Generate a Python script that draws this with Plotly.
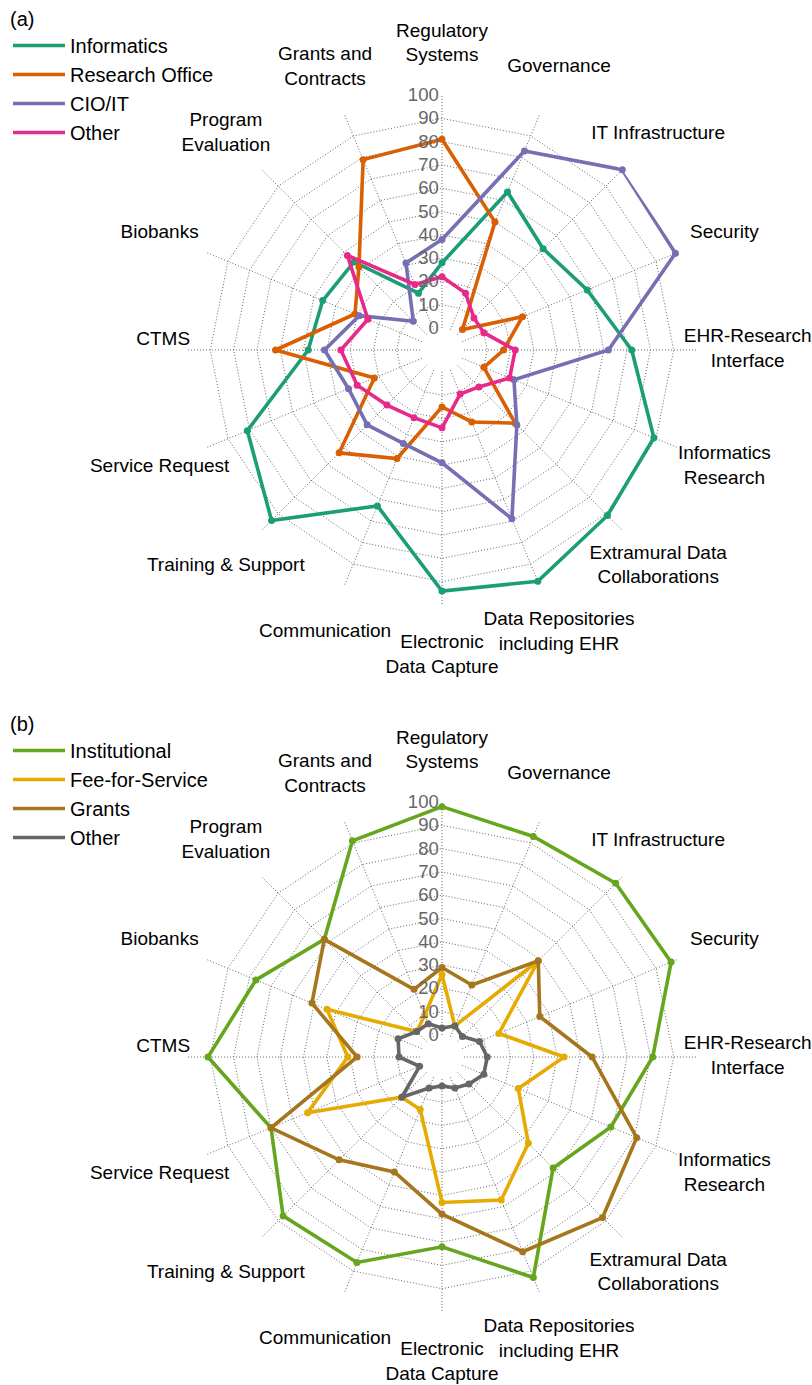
import plotly.graph_objects as go

categories = ["Regulatory Systems", "Governance", "IT Infrastructure", "Security",
              "EHR-Research Interface", "Informatics Research",
              "Extramural Data Collaborations", "Data Repositories including EHR",
              "Electronic Data Capture", "Communication", "Training & Support",
              "Service Request", "CTMS", "Biobanks", "Program Evaluation",
              "Grants and Contracts"]
category_labels = ["Regulatory<br>Systems", "Governance", "IT Infrastructure", "Security",
                   "EHR-Research<br>Interface", "Informatics<br>Research",
                   "Extramural Data<br>Collaborations", "Data Repositories<br>including EHR",
                   "Electronic<br>Data Capture", "Communication", "Training & Support",
                   "Service Request", "CTMS", "Biobanks", "Program<br>Evaluation",
                   "Grants and<br>Contracts"]
radial_ticks = [0, 10, 20, 30, 40, 50, 60, 70, 80, 90, 100]

# Panel (a): by unit
informatics = [28, 64, 52, 58, 72, 89, 91, 98, 94, 63, 94, 81, 48, 46, 44, 17]
research_office = [81, 50, 3, 28, 17, 10, 35, 24, 15, 41, 53, 22, 62, 31, 41, 79]
cio_it = [38, 83, 100, 99, 62, 24, 36, 69, 39, 34, 36, 34, 41, 29, 8, 31]
other_a = [22, 17, 10, 10, 22, 22, 13, 11, 24, 22, 24, 30, 34, 25, 48, 21]

# Panel (b): by funding source
institutional = [98, 93, 96, 97, 81, 69, 58, 93, 72, 86, 87, 70, 91, 77, 62, 91]
fee_for_service = [26, 5, 49, 17, 43, 26, 43, 57, 53, 15, 15, 53, 31, 44, 6, 10]
grants = [29, 24, 49, 36, 55, 81, 88, 81, 58, 44, 53, 70, 27, 51, 62, 22]
other_b = [3, 5, 3, 8, 10, 10, 7, 5, 3, 5, 15, 1, 9, 11, 6, 6]

series_a = [("Informatics", informatics, "#1b9e77"),
            ("Research Office", research_office, "#d95f02"),
            ("CIO/IT", cio_it, "#7570b3"),
            ("Other", other_a, "#e7298a")]
series_b = [("Institutional", institutional, "#66a61e"),
            ("Fee-for-Service", fee_for_service, "#e6ab02"),
            ("Grants", grants, "#a6761d"),
            ("Other", other_b, "#666666")]

FONT = "Liberation Sans, Arial, sans-serif"
W, H = 812, 1385
CX = 442
R_PLOT = 255      # pixel radius of the 100 ring
R_LABEL = 306     # pixel radius of the category label centres
GRID = "#666666"

label_positions = ["middle center"] * len(categories)
label_positions[categories.index("CTMS")] = "top right"

fig = go.Figure()

def add_panel(series, subplot, label_subplot, legend):
    theta = categories + categories[:1]
    for name, vals, color in series:
        r = vals + vals[:1]
        fig.add_trace(go.Scatterpolar(r=r, theta=theta, mode="lines", name=name,
                                      line=dict(color=color, width=3.6),
                                      subplot=subplot, legend=legend,
                                      legendgroup=subplot + name, hoverinfo="skip"))
        fig.add_trace(go.Scatterpolar(r=vals, theta=categories, mode="markers",
                                      name=name, marker=dict(color=color, size=7),
                                      subplot=subplot, showlegend=False,
                                      legendgroup=subplot + name))
    fig.add_trace(go.Scatterpolar(r=[0.999] * len(categories), theta=categories,
                                  mode="text", text=category_labels,
                                  textposition=label_positions,
                                  textfont=dict(size=19, color="black", family=FONT),
                                  cliponaxis=False, showlegend=False,
                                  hoverinfo="skip", subplot=label_subplot))

add_panel(series_a, "polar", "polar3", "legend")
add_panel(series_b, "polar2", "polar4", "legend2")

def xdom(rpx):
    return [(CX - rpx) / W, (CX + rpx) / W]

def ydom(cy, rpx):
    return [1 - (cy + rpx) / H, 1 - (cy - rpx) / H]

def polar_cfg(cy):
    return dict(
        domain=dict(x=xdom(R_PLOT), y=ydom(cy, R_PLOT)),
        bgcolor="rgba(0,0,0,0)",
        hole=0.086,
        gridshape="linear",
        radialaxis=dict(range=[0, 100], tickvals=radial_ticks, angle=90,
                        side="counterclockwise", tickangle=90,
                        showline=False, ticks="", gridcolor=GRID,
                        griddash="1px,2px", gridwidth=1,
                        tickfont=dict(size=18.5, color="#666666", family=FONT)),
        angularaxis=dict(direction="clockwise", rotation=90, type="category",
                         categoryorder="array", categoryarray=categories,
                         showticklabels=False, ticks="", showline=False,
                         gridcolor=GRID, griddash="1px,2px", gridwidth=1),
    )

def label_cfg(cy):
    return dict(
        domain=dict(x=xdom(R_LABEL), y=ydom(cy, R_LABEL)),
        bgcolor="rgba(0,0,0,0)",
        radialaxis=dict(range=[0, 1], visible=False),
        angularaxis=dict(direction="clockwise", rotation=90, type="category",
                         categoryorder="array", categoryarray=categories,
                         visible=False),
    )

legend_common = dict(xanchor="left", yanchor="top", font=dict(size=20),
                     bgcolor="rgba(0,0,0,0)", tracegroupgap=0, itemwidth=52)

fig.update_layout(
    width=W, height=H,
    margin=dict(l=0, r=0, t=0, b=0),
    paper_bgcolor="white",
    font=dict(family=FONT, color="black"),
    polar=polar_cfg(350),
    polar2=polar_cfg(1057),
    polar3=label_cfg(350),
    polar4=label_cfg(1057),
    legend=dict(title=dict(text="(a)", font=dict(size=20)), x=8 / W, y=1.0,
                **legend_common),
    legend2=dict(title=dict(text="(b)", font=dict(size=20)), x=8 / W,
                 y=1 - 705 / H, **legend_common),
)

fig.write_html("out.html", config={"displayModeBar": False},
               post_script="document.body.style.margin='0px';")
